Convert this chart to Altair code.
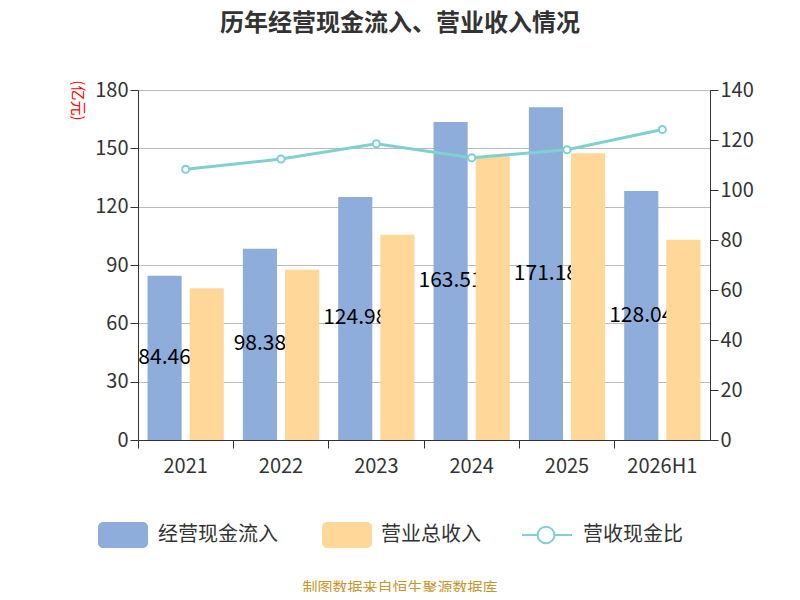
import altair as alt
import pandas as pd

years = ["2021", "2022", "2023", "2024", "2025", "2026H1"]
cash_in = [84.46, 98.38, 124.98, 163.51, 171.18, 128.04]
revenue = [78.0, 87.5, 105.5, 146.0, 147.5, 103.0]
ratio = [108.3, 112.4, 118.5, 112.9, 116.1, 124.2]
labels = ["84.46", "98.38", "124.98", "163.51", "171.18", "128.04"]

df = pd.DataFrame({"year": years, "cash": cash_in, "rev": revenue, "ratio": ratio,
                   "lab": labels, "half": [v / 2 for v in cash_in],
                   "sa": ["a"] * 6, "sb": ["b"] * 6})

FONT = "Noto Sans CJK SC"
BLUE = "#8EADDA"
ORANGE = "#FFD899"
TEAL = "#7FD1D0"

x = alt.X("year:N", sort=years, title=None,
          scale=alt.Scale(paddingInner=0.0, paddingOuter=0.0),
          axis=alt.Axis(labelAngle=0, labelFontSize=20, labelColor="#333", labelPadding=8,
                        domainColor="#333", tickColor="#333", tickSize=8, bandPosition=0, labelFont=FONT))
xo_scale = alt.Scale(domain=["a", "b"], paddingInner=0.19, paddingOuter=0.226)
yl = alt.Y("cash:Q", title="(亿元)",
           scale=alt.Scale(domain=[0, 180]),
           axis=alt.Axis(values=[0, 30, 60, 90, 120, 150, 180], labelFontSize=20, labelColor="#333",
                         domainColor="#333", tickColor="#333", tickSize=8, gridColor="#bbb",
                         titleColor="red", titleFontSize=15, titleFontWeight="normal", titleAngle=90,
                         titleAnchor="end", titleX=-69, titleY=30, titleFont=FONT, labelFont=FONT))

blue = alt.Chart(df).mark_bar(color=BLUE).encode(x=x, xOffset=alt.XOffset("sa:N", scale=xo_scale), y=yl)
txt = alt.Chart(df).mark_text(fontSize=21, color="black", font=FONT).encode(
    x=x, xOffset=alt.XOffset("sa:N", scale=xo_scale),
    y=alt.Y("half:Q", scale=alt.Scale(domain=[0, 180])), text="lab:N")
orange = alt.Chart(df).mark_bar(color=ORANGE).encode(
    x=x, xOffset=alt.XOffset("sb:N", scale=xo_scale),
    y=alt.Y("rev:Q", scale=alt.Scale(domain=[0, 180])))
yr = alt.Y("ratio:Q", title="%", scale=alt.Scale(domain=[0, 140]),
           axis=alt.Axis(orient="right", values=list(range(0, 141, 20)), grid=False, labelFontSize=20,
                         labelColor="#333", domainColor="#333", tickColor="#333", tickSize=8,
                         titleColor="red", titleFontSize=15, titleFontWeight="normal", titleAngle=90,
                         titleAnchor="end", titleX=84, titleY=8, titleFont=FONT, labelFont=FONT))
line = alt.Chart(df).mark_line(color=TEAL, strokeWidth=3, point=alt.OverlayMarkDef(
    filled=True, fill="white", stroke=TEAL, strokeWidth=2, size=50)).encode(x=x, y=yr)

deco = pd.DataFrame({"t": ["历年经营现金流入、营业收入情况"]})
title = alt.Chart(deco).mark_text(fontSize=24, fontWeight="bold", color="#333", font=FONT).encode(
    x=alt.value(262), y=alt.value(-66), text="t:N")
foot = alt.Chart(pd.DataFrame({"t": ["制图数据来自恒生聚源数据库"]})).mark_text(
    fontSize=15, color="#C8962A", font=FONT).encode(x=alt.value(262), y=alt.value(498), text="t:N")
leg_names = ["经营现金流入", "营业总收入", "营收现金比"]
lt = pd.DataFrame({"t": leg_names, "i": [0, 1, 2]})
legtext = []
for i, px in enumerate([20, 243, 445]):
    legtext.append(alt.Chart(lt[lt.i == i]).mark_text(fontSize=20, color="#333", align="left", font=FONT)
                   .encode(x=alt.value(px), y=alt.value(445), text="t:N"))
r1 = alt.Chart(lt[lt.i == 0]).mark_rect(color=BLUE, cornerRadius=5).encode(
    x=alt.value(-40), x2=alt.value(10), y=alt.value(432), y2=alt.value(458))
r2 = alt.Chart(lt[lt.i == 1]).mark_rect(color=ORANGE, cornerRadius=5).encode(
    x=alt.value(184), x2=alt.value(234), y=alt.value(432), y2=alt.value(458))
lr = alt.Chart(lt[lt.i == 2]).mark_rule(color=TEAL, strokeWidth=2).encode(
    x=alt.value(384), x2=alt.value(434), y=alt.value(445))
lc = alt.Chart(lt[lt.i == 2]).mark_point(shape="circle", filled=True, fill="white", stroke=TEAL,
                                          strokeWidth=2, size=280, opacity=1).encode(
    x=alt.value(408), y=alt.value(445))

bars = alt.layer(blue, txt, orange)
chart = alt.layer(bars, line, title, foot, r1, r2, lr, lc, *legtext).resolve_scale(y="independent").properties(
    width=572, height=350, autosize=alt.AutoSizeParams(type="none"),
    padding={"left": 130, "top": 82, "right": 82, "bottom": 152}
).configure_view(stroke=None).configure(font=FONT)

chart.save("out.html", embed_options={"renderer": "svg", "actions": False})
